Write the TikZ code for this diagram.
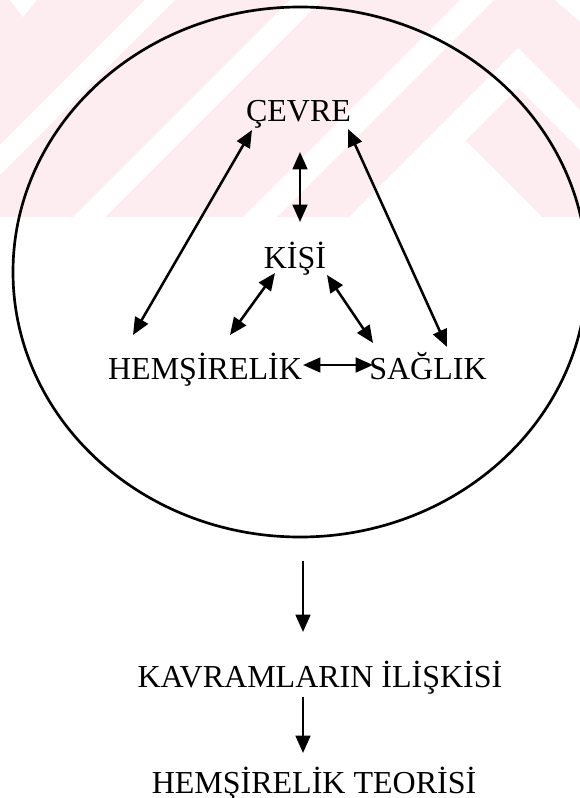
\documentclass[tikz,border=0pt]{standalone}
\usepackage{fontspec}
\setmainfont{Liberation Serif}
\usepackage{tikz}
\usetikzlibrary{calc,arrows.meta,shapes.geometric}
\definecolor{wm-pink}{HTML}{FDEDF0}

\begin{document}
\begin{tikzpicture}[x=0.75pt, y=-0.75pt,
    lbl/.style={inner sep=0pt, anchor=base, font=\fontsize{24}{28}\selectfont},
    link/.style={line width=1.9pt, {Triangle[length=13pt,width=11pt]}-{Triangle[length=13pt,width=11pt]}},
    flow/.style={line width=1.9pt, -{Triangle[length=13pt,width=11pt]}}]
    \useasboundingbox (0,0) rectangle (580,798);
    \fill[white] (0,0) rectangle (580,798);
    % watermark band
    \fill[wm-pink] (0,0) rectangle (580,217);
    \fill[white] (10,0) -- (37,0) -- (23,17) -- cycle;
    \fill[white] (145,0) -- (175,0) -- (0,175) -- (0,145) -- cycle;
    \fill[white] (290,0) -- (322,0) -- (105,217) -- (73,217) -- cycle;
    \fill[white] (460,0) -- (494,0) -- (277,217) -- (243,217) -- cycle;
    \fill[white] (349,217) -- (518,48) -- (580,110) -- (580,150) -- (518,88) -- (389,217) -- cycle;
    \fill[white] (352,217) -- (447,122) -- (542,217) -- cycle;
    \fill[white] (555,0) -- (580,0) -- (580,22) -- cycle;

    \node[draw, ellipse, line width=2pt, minimum width=430.5pt, minimum height=397.5pt] (cember) at (300,272) {};
    \node[lbl] (cevre) at (298.5,122) {ÇEVRE};
    \node[lbl] (kisi) at (295,268) {KİŞİ};
    \node[lbl] (hems) at (205,379) {HEMŞİRELİK};
    \node[lbl] (saglik) at (428,379) {SAĞLIK};
    \node[lbl] (iliski) at (320,687) {KAVRAMLARIN İLİŞKİSİ};
    \node[lbl] (teori) at (314,793) {HEMŞİRELİK TEORİSİ};

    \draw[link] ($(cevre.base)+(-46.5,8)$) -- ($(hems.base)+(-72,-44)$);
    \draw[link] ($(cevre.base)+(49.5,7)$) -- ($(saglik.base)+(19,-32)$);
    \draw[link] ($(cevre.base)+(1.5,30)$) -- ($(kisi.base)+(5,-46)$);
    \draw[link] ($(kisi.base)+(-20,5)$) -- ($(hems.base)+(25,-44)$);
    \draw[link] ($(kisi.base)+(32,7)$) -- ($(saglik.base)+(-55,-36)$);
    \draw[link] ($(hems.base)+(98,-14)$) -- ($(saglik.base)+(-55,-14)$);
    \draw[flow] ($(cember.south)+(3,23)$) -- ($(iliski.base)+(-17,-55)$);
    \draw[flow] ($(iliski.base)+(-17,10)$) -- ($(teori.base)+(-11,-40)$);
\end{tikzpicture}
\end{document}
